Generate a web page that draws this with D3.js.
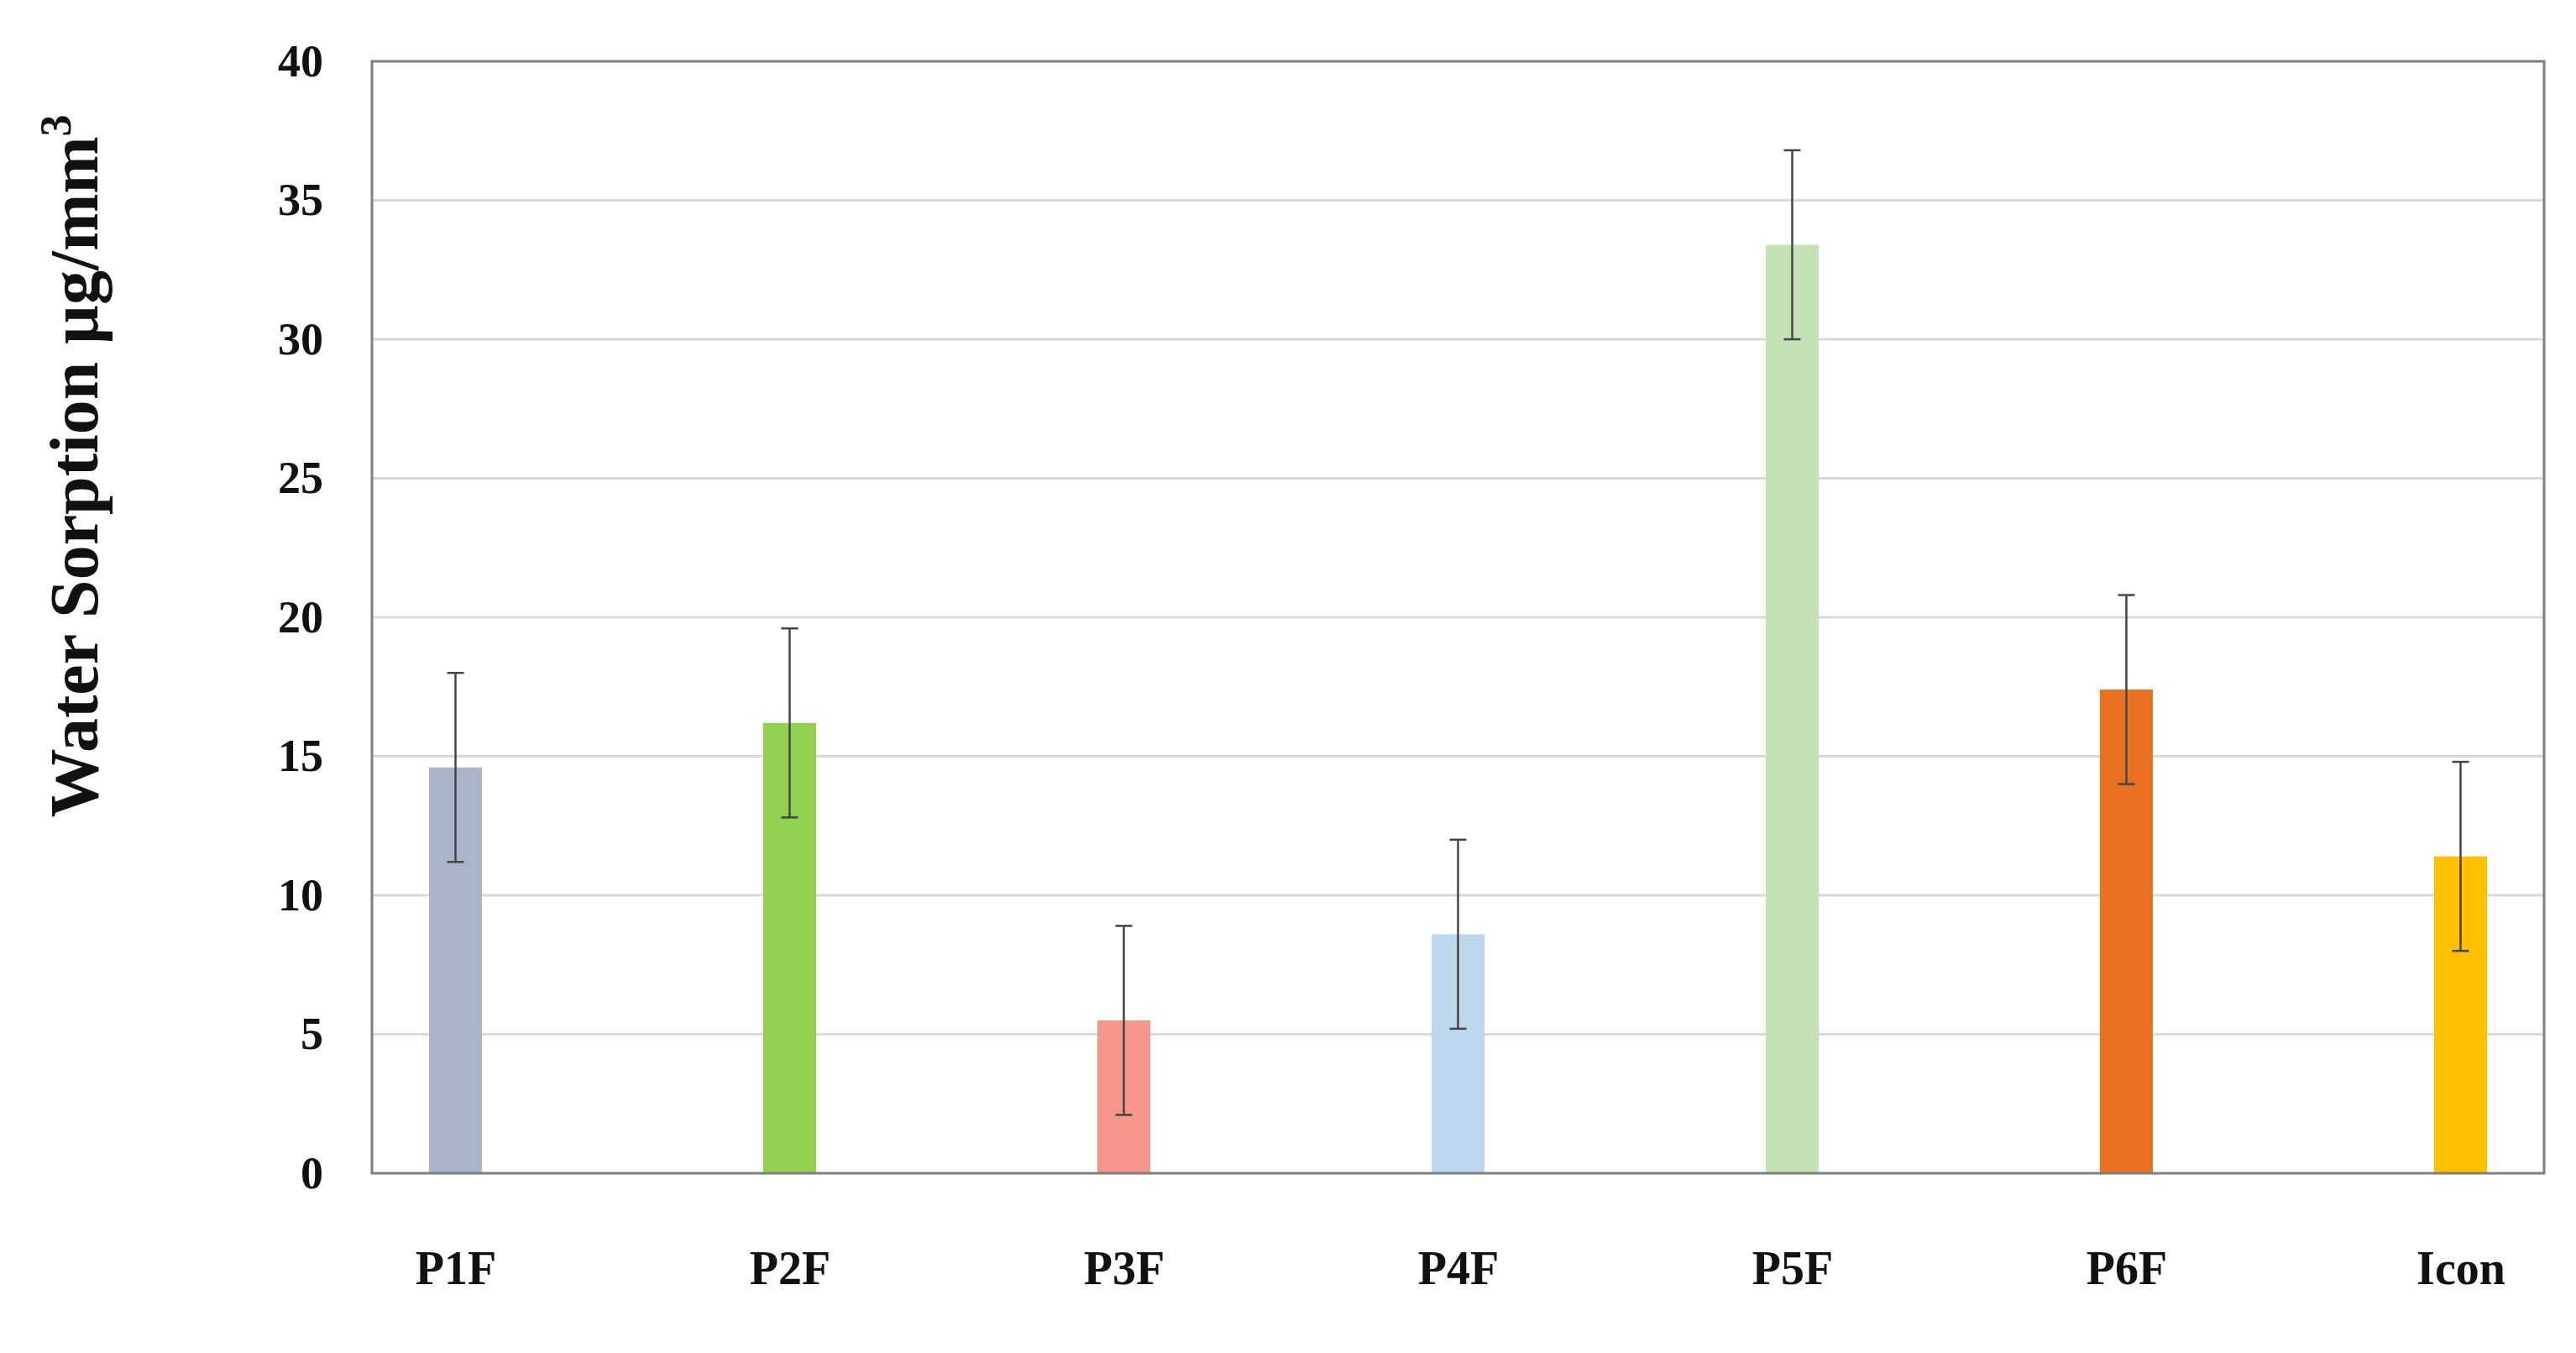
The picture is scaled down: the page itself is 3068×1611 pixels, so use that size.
<!DOCTYPE html>
<html><head><meta charset="utf-8">
<script src="https://cdn.jsdelivr.net/npm/d3@7"></script>
<style>body{margin:0;background:#fff}text{font-family:"Liberation Serif",serif;font-weight:bold;fill:#111}</style>
</head><body><svg id="c" width="3068" height="1611"></svg>
<script>
const categories = ["P1F", "P2F", "P3F", "P4F", "P5F", "P6F", "Icon"];
const values = [14.6, 16.2, 5.5, 8.6, 33.4, 17.4, 11.4];
const errors = [3.4, 3.4, 3.4, 3.4, 3.4, 3.4, 3.4];
const colors = ["#a9b4c8", "#92d050", "#f4978a", "#bdd7ee", "#c5e0b4", "#e97121", "#ffc000"];
const yTicks = [0, 5, 10, 15, 20, 25, 30, 35, 40];

const m = {left: 443, right: 3030, top: 73, bottom: 1397};
const svg = d3.select("#c");
const x = d3.scalePoint().domain(categories).range([m.left, m.right]).padding(0.25);
const y = d3.scaleLinear().domain([0, 40]).range([m.bottom, m.top]);
const bw = 63;

// gridlines
svg.append("g").selectAll("line").data(yTicks.slice(1, -1)).join("line")
  .attr("x1", m.left).attr("x2", m.right).attr("y1", d => y(d)).attr("y2", d => y(d))
  .attr("stroke", "#d9d9d9").attr("stroke-width", 3);

// bars
svg.append("g").selectAll("rect").data(categories).join("rect")
  .attr("x", d => x(d) - bw / 2).attr("width", bw)
  .attr("y", (d, i) => y(values[i])).attr("height", (d, i) => y(0) - y(values[i]))
  .attr("fill", (d, i) => colors[i]);

// error bars
const eb = svg.append("g").attr("stroke", "#444").attr("stroke-width", 2.5);
categories.forEach((c, i) => {
  const cx = x(c), lo = y(values[i] - errors[i]), hi = y(values[i] + errors[i]);
  eb.append("line").attr("x1", cx).attr("x2", cx).attr("y1", lo).attr("y2", hi);
  eb.append("line").attr("x1", cx - 10).attr("x2", cx + 10).attr("y1", lo).attr("y2", lo);
  eb.append("line").attr("x1", cx - 10).attr("x2", cx + 10).attr("y1", hi).attr("y2", hi);
});

// frame
svg.append("rect").attr("x", m.left).attr("y", m.top)
  .attr("width", m.right - m.left).attr("height", m.bottom - m.top)
  .attr("fill", "none").attr("stroke", "#7f7f7f").attr("stroke-width", 3);

// y axis
const ya = svg.append("g").attr("transform", `translate(${m.left},0)`)
  .call(d3.axisLeft(y).tickValues(yTicks).tickSize(0).tickPadding(58));
ya.select(".domain").remove();
ya.selectAll("text").attr("font-size", 54).attr("font-family", "Liberation Serif").attr("font-weight", "bold").attr("fill", "#111");

// x labels
const xa = svg.append("g").attr("transform", `translate(0,${m.bottom})`)
  .call(d3.axisBottom(x).tickSize(0).tickPadding(92));
xa.select(".domain").remove();
xa.selectAll("text").attr("font-size", 56).attr("font-family", "Liberation Serif").attr("font-weight", "bold").attr("fill", "#111");

// y title
const t = svg.append("text").attr("transform", "translate(116,555) rotate(-90)")
  .attr("text-anchor", "middle").attr("font-size", 82);
t.append("tspan").text("Water Sorption µg/mm");
t.append("tspan").attr("font-size", 52).attr("dy", -32).text("3");
</script></body></html>
